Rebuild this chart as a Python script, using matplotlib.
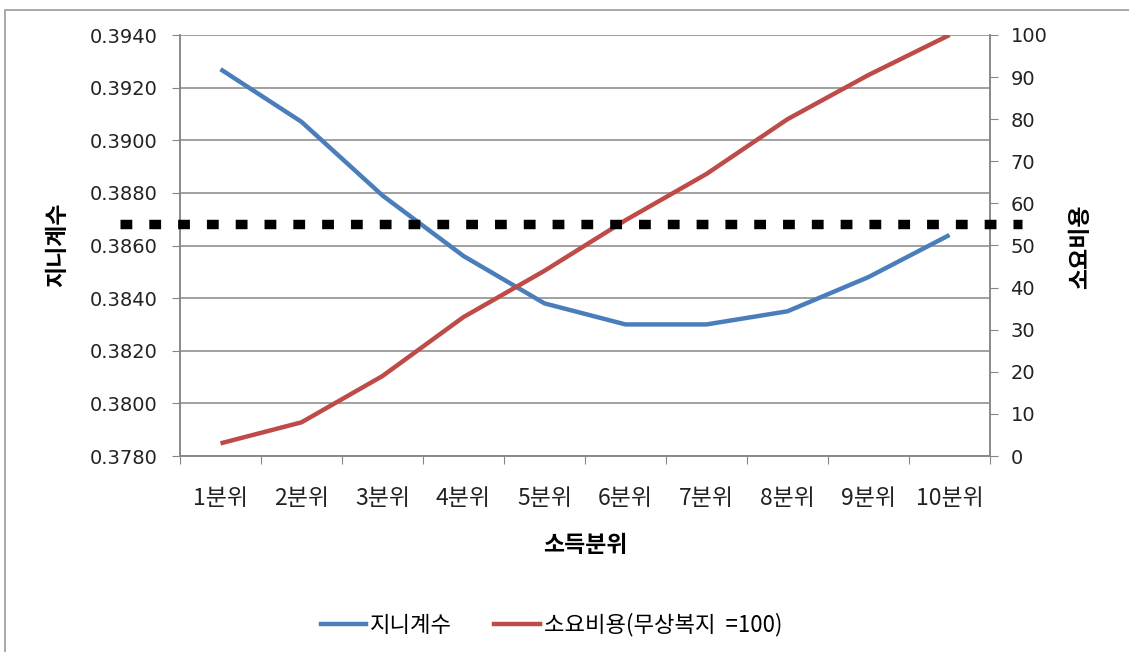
import numpy as np
import matplotlib
matplotlib.use("Agg")
import matplotlib.pyplot as plt
from matplotlib.patches import Rectangle
from matplotlib.lines import Line2D

plt.rcParams['font.family'] = ['Noto Sans CJK KR', 'DejaVu Sans']

# ---- data ----
categories = ['1분위', '2분위', '3분위', '4분위', '5분위', '6분위', '7분위', '8분위', '9분위', '10분위']
gini = [0.3927, 0.3907, 0.3879, 0.3856, 0.3838, 0.3830, 0.3830, 0.3835, 0.3848, 0.3864]
cost = [3, 8, 19, 33, 44, 56, 67, 80, 90.5, 100]
left_ticks = [0.3780, 0.3800, 0.3820, 0.3840, 0.3860, 0.3880, 0.3900, 0.3920, 0.3940]
right_ticks = [0, 10, 20, 30, 40, 50, 60, 70, 80, 90, 100]
threshold = 55
label_gini = '지니계수'
label_cost = '소요비용(무상복지  =100)'
xlabel = '소득분위'
ylabel_left = '지니계수'
ylabel_right = '소요비용'

W, H = 1129, 652
BLUE = '#4A7EBB'
RED = '#BE4B48'
GRID = '#868686'

fig = plt.figure(figsize=(W / 100, H / 100), dpi=100)
fig.patch.set_facecolor('white')

# outer frame
fig.add_artist(Rectangle((5 / W, -10 / H), (W + 10) / W, H / H,
                         transform=fig.transFigure, fill=False, edgecolor='#9a9a9a', lw=1.2))

ax = fig.add_axes([180 / W, 1 - 456 / H, 810 / W, 421 / H])
ax2 = ax.twinx()

x = np.arange(len(categories))
ax.set_xlim(-0.5, len(categories) - 0.5)
ax.set_ylim(left_ticks[0], left_ticks[-1])
ax2.set_ylim(right_ticks[0], right_ticks[-1])

ax.set_yticks(left_ticks)
ax.set_yticklabels([f'{v:.4f}' for v in left_ticks], family='DejaVu Sans', fontsize=14, color='#222222')
ax2.set_yticks(right_ticks)
ax2.set_yticklabels([str(v) for v in right_ticks], family='DejaVu Sans', fontsize=14, color='#222222')

ax.set_xticks(np.arange(-0.5, len(categories), 1.0))
ax.set_xticklabels([])
ax.set_xticks(x, minor=True)
ax.set_xticklabels(categories, minor=True, fontsize=16.5, color='#222222')
ax.tick_params(axis='x', which='major', length=5.8, color=GRID, direction='out')
ax.tick_params(axis='x', which='minor', length=0, pad=22)
ax.tick_params(axis='y', length=5.8, color=GRID, pad=10.5)
ax2.tick_params(axis='y', length=5.8, color=GRID, pad=9)

ax.yaxis.grid(True, color=GRID, lw=1.1)
ax.set_axisbelow(True)
for a in (ax, ax2):
    a.spines['top'].set_visible(False)
    for s in ('left', 'right', 'bottom'):
        a.spines[s].set_color(GRID)
        a.spines[s].set_linewidth(1.1)

ax.plot(x, gini, color=BLUE, lw=3.2, solid_capstyle='butt', zorder=3)
ax2.plot(x, cost, color=RED, lw=3.2, solid_capstyle='butt', zorder=3)

ax2.plot([-60 / 810, 1 + 32 / 810], [threshold, threshold], transform=ax2.get_yaxis_transform(),
         color='black', lw=6.8, linestyle=(0, (1.25, 1.8)), clip_on=False, zorder=4)

fig.text(585 / W, 1 - 546 / H, xlabel, ha='center', va='center', fontsize=16.5, fontweight='bold')
fig.text(58 / W, 1 - 245 / H, ylabel_left, ha='center', va='center', rotation=90,
         fontsize=16.5, fontweight='bold')
fig.text(1081 / W, 1 - 247 / H, ylabel_right, ha='center', va='center', rotation=90,
         fontsize=16.5, fontweight='bold')

handles = [Line2D([], [], color=BLUE, lw=3.2), Line2D([], [], color=RED, lw=3.2)]
fig.legend(handles, [label_gini, label_cost], loc='center', bbox_to_anchor=(551.5 / W, 1 - 625 / H),
           ncol=2, frameon=False, fontsize=16, handlelength=2.03, handletextpad=0.2,
           columnspacing=1.9)

fig.savefig('out.png', dpi=100, facecolor='white')
